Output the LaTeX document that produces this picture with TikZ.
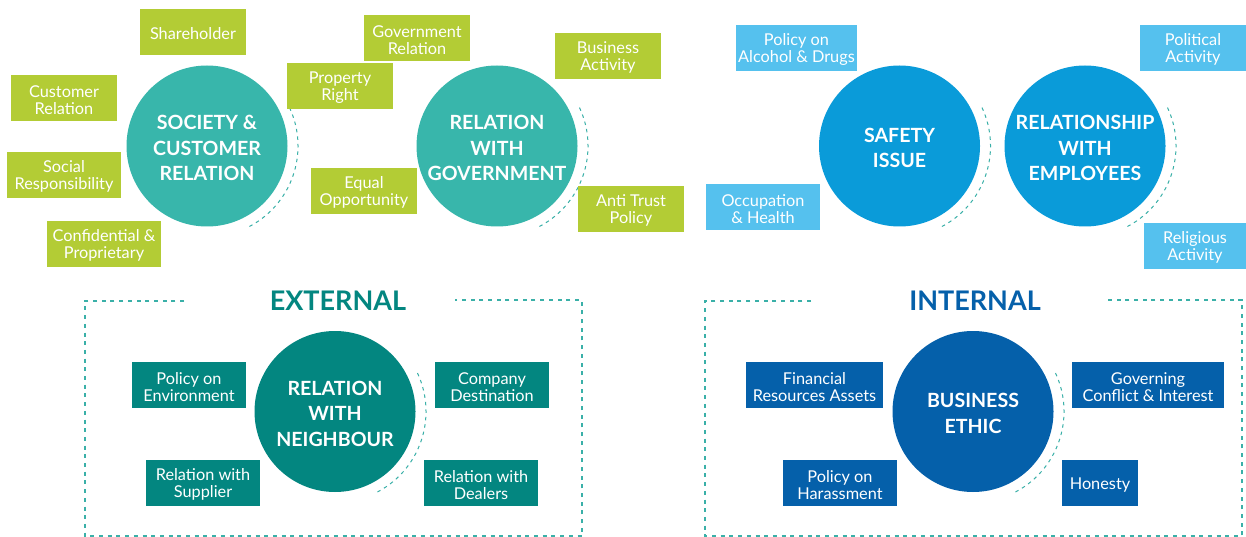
\documentclass[tikz,border=0pt]{standalone}
\usepackage{fontspec}
\setmainfont{Lato}
\definecolor{cteal}{HTML}{38B6AB}
\definecolor{cgreen}{HTML}{B3CC35}
\definecolor{cblue}{HTML}{0A9BD9}
\definecolor{clblue}{HTML}{55C1EE}
\definecolor{cdteal}{HTML}{038680}
\definecolor{cdblue}{HTML}{0560AA}
\definecolor{cdash}{HTML}{3AB0A8}
\tikzset{
  lbltext/.style={inner sep=0pt, text=white, align=center, yshift=-1.8pt,
    font=\fontsize{16.3}{17}\selectfont},
  txt/.style={label={[lbltext]center:{#1}}},
  lbl/.style={inner sep=0pt, minimum height=46pt},
  gbox/.style={lbl, fill=cgreen},
  lbbox/.style={lbl, fill=clblue},
  dtbox/.style={lbl, fill=cdteal},
  dbbox/.style={lbl, fill=cdblue},
  hubtext/.style={inner sep=0pt, text=white, align=center, yshift=-2pt,
    font=\fontsize{19.6}{25.5}\selectfont\bfseries},
  htxt/.style={label={[hubtext]center:{#1}}},
  hub/.style={circle, inner sep=0pt, minimum size=161pt},
  arcdash/.style={draw=cdash, line width=1pt, dash pattern=on 3.5pt off 4pt},
  framedash/.style={draw=cdash, line width=1.1pt, dash pattern=on 4pt off 4.7pt},
  title/.style={inner sep=0pt, font=\fontsize{27}{30}\selectfont\bfseries}
}
\begin{document}
\begin{tikzpicture}[x=1pt,y=-1pt]
\useasboundingbox[fill=white] (0,0) rectangle (1246,537);

% hubs
\node[hub, fill=cteal, htxt={SOCIETY \&\\CUSTOMER\\RELATION}] (c1) at (207,146) {};
\node[hub, fill=cteal, htxt={RELATION\\WITH\\GOVERNMENT}] (c2) at (497,146) {};
\node[hub, fill=cblue, htxt={SAFETY\\ISSUE}] (c3) at (899.5,146) {};
\node[hub, fill=cblue, htxt={RELATIONSHIP\\WITH\\EMPLOYEES}] (c4) at (1085,146) {};
\node[hub, fill=cdteal, htxt={RELATION\\WITH\\NEIGHBOUR}] (c5) at (335,411.5) {};
\node[hub, fill=cdblue, htxt={BUSINESS\\ETHIC}] (c6) at (973,411.5) {};

% dashed arcs
\foreach \c in {c1,c2,c3,c4,c5,c6}{
  \draw[arcdash] (\c) ++(25:91pt) arc[start angle=25, end angle=-64, radius=91pt];
}

% green boxes
\node[gbox, minimum width=106pt, txt={Shareholder}] (sh) at (193,32) {};
\node[gbox, minimum width=106pt, txt={Customer\\Relation}] (cr) at (64,98) {};
\node[gbox, minimum width=114pt, txt={Social\\Responsibility}] (sr) at (64,175) {};
\node[gbox, minimum width=114pt, txt={Confidential \&\\Proprietary}] (cp) at (104,244) {};
\node[gbox, minimum width=106pt, txt={Property\\Right}] (pr) at (340,86) {};
\node[gbox, minimum width=106pt, txt={Equal\\Opportunity}] (eo) at (364,191) {};
\node[gbox, minimum width=106pt, txt={Government\\Relation}] (gr) at (417,38) {};
\node[gbox, minimum width=106pt, txt={Business\\Activity}] (ba) at (608,56) {};
\node[gbox, minimum width=106pt, txt={Anti Trust\\Policy}] (at) at (631,209) {};

% light blue boxes
\node[lbbox, minimum width=121pt, txt={Policy on\\Alcohol \& Drugs}] (pad) at (796.5,48) {};
\node[lbbox, minimum width=114pt, txt={Occupation\\\& Health}] (oh) at (763,207) {};
\node[lbbox, minimum width=106pt, txt={Political\\Activity}] (pa) at (1193,48) {};
\node[lbbox, minimum width=102pt, txt={Religious\\Activity}] (ra) at (1195,246) {};

% external boxes
\node[dtbox, minimum width=114pt, txt={Policy on\\Environment}] (pe) at (189,385) {};
\node[dtbox, minimum width=114pt, txt={Relation with\\Supplier}] (rs) at (203,483) {};
\node[dtbox, minimum width=114pt, txt={Company\\Destination}] (cd) at (492,385) {};
\node[dtbox, minimum width=114pt, txt={Relation with\\Dealers}] (rd) at (481,483) {};

% internal boxes
\node[dbbox, minimum width=137pt, txt={Financial\\Resources Assets}] (fra) at (814.5,385) {};
\node[dbbox, minimum width=114pt, txt={Policy on\\Harassment}] (ph) at (840,483) {};
\node[dbbox, minimum width=152pt, txt={Governing\\Conflict \& Interest}] (gci) at (1148,385) {};
\node[dbbox, minimum width=76pt, txt={Honesty}] (ho) at (1100,483) {};

% frames
\draw[framedash] (184,301) -- (85,301) -- (85,536) -- (582,536) -- (582,300) -- (455,300);
\draw[framedash] (811,301) -- (705,301) -- (705,536) -- (1242,536) -- (1242,300) -- (1105,300);

% titles
\node[title, text=cdteal] (ext) at (338,301) {EXTERNAL};
\node[title, text=cdblue] (int) at (975,301) {INTERNAL};
\end{tikzpicture}
\end{document}
